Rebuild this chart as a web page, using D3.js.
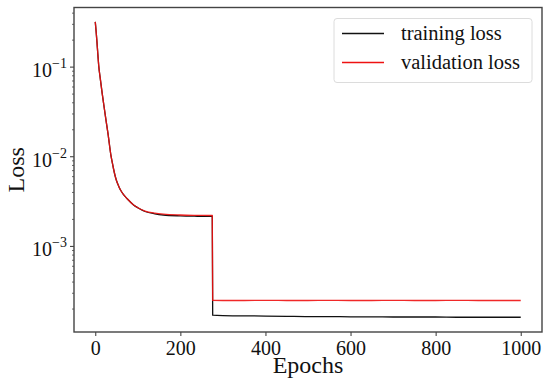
<!DOCTYPE html>
<html>
<head>
<meta charset="utf-8">
<script src="https://cdn.jsdelivr.net/npm/d3@7"></script>
<style>
  body { margin: 0; background: #fff; }
</style>
</head>
<body>
<div id="chart"></div>
<script>
// loss curves
const epochs = [0, 2, 4, 6, 8, 12, 16, 20, 25, 30, 37, 40, 43, 46, 50, 55, 60, 66, 75, 90, 100, 117, 140, 160, 200, 240, 275,
  276, 300, 350, 400, 450, 500, 550, 600, 650, 700, 750, 800, 850, 900, 950, 1000]
const trainLoss = [0.32, 0.25, 0.19, 0.14, 0.105, 0.073, 0.052, 0.038, 0.026, 0.018, 0.0102, 0.0086, 0.0073, 0.0063,
  0.0054, 0.0047, 0.0042, 0.0038, 0.0034, 0.0029, 0.0027, 0.00245, 0.00231, 0.00224, 0.00219, 0.00217, 0.00216,
  0.000171, 0.000169, 0.000168, 0.000167, 0.000166, 0.000165, 0.000165, 0.000164, 0.000164, 0.000163,
  0.000163, 0.000163, 0.000162, 0.000162, 0.000162, 0.000162]
const valLoss = [0.32, 0.25, 0.19, 0.14, 0.105, 0.073, 0.052, 0.038, 0.026, 0.018, 0.0102, 0.0086, 0.0073, 0.0063,
  0.0054, 0.0047, 0.0042, 0.0038, 0.0034, 0.0029, 0.0027, 0.00248, 0.00235, 0.00229, 0.00224, 0.00222, 0.00221,
  0.000250, 0.000249, 0.000249, 0.000250, 0.000249, 0.000249, 0.000250, 0.000249, 0.000249, 0.000250,
  0.000249, 0.000249, 0.000250, 0.000249, 0.000249, 0.000249]
const xTicks = [0, 200, 400, 600, 800, 1000]
const yTicks = [1e-3, 1e-2, 1e-1]
const seriesNames = ['training loss', 'validation loss']
const seriesColors = ['#111', '#ee1111']

const W = 550
const H = 383
const plot = { left: 74, right: 542, top: 7.5, bottom: 332 }
const serif = '"Liberation Serif", "Times New Roman", Times, serif'

const svg = d3.select('#chart')
  .append('svg')
  .attr('width', W)
  .attr('height', H)
  .style('font-family', serif)

const x = d3.scaleLinear().domain([-50, 1050]).range([plot.left, plot.right])
const y = d3.scaleLog().domain([Math.pow(10, -3.955), Math.pow(10, -0.335)]).range([plot.bottom, plot.top])

// x axis
const xAxis = svg.append('g')
  .attr('transform', 'translate(0,' + plot.bottom + ')')
  .call(d3.axisBottom(x).tickValues(xTicks).tickSize(4).tickPadding(3).tickFormat(d3.format('d')))
  .attr('font-family', serif)
xAxis.select('.domain').remove()
xAxis.selectAll('line').attr('stroke', '#333')
xAxis.selectAll('text')
  .style('font-family', serif)
  .style('font-size', '20px')
  .attr('fill', '#111')
  .attr('dy', '0.8em')

// y axis: major + minor ticks, labels drawn as 10^n
const minor = []
for (let e = -4; e <= 0; e++) {
  for (let m = 2; m <= 9; m++) {
    const v = m * Math.pow(10, e)
    if (v >= y.domain()[0] && v <= y.domain()[1]) minor.push(v)
  }
}
const yg = svg.append('g')
yg.selectAll('.minor')
  .data(minor)
  .enter().append('line')
  .attr('x1', plot.left - 2)
  .attr('x2', plot.left)
  .attr('y1', d => y(d))
  .attr('y2', d => y(d))
  .attr('stroke', '#444')
  .attr('stroke-width', 0.8)
yg.selectAll('.major')
  .data(yTicks)
  .enter().append('line')
  .attr('x1', plot.left - 4)
  .attr('x2', plot.left)
  .attr('y1', d => y(d))
  .attr('y2', d => y(d))
  .attr('stroke', '#333')
  .attr('stroke-width', 1)
const yl = yg.selectAll('.ylab')
  .data(yTicks)
  .enter().append('text')
  .attr('x', plot.left - 7)
  .attr('y', d => y(d) + 10)
  .attr('text-anchor', 'end')
  .attr('fill', '#111')
  .style('font-family', serif)
  .style('font-size', '20px')
yl.append('tspan').text('10')
yl.append('tspan')
  .attr('dy', -9)
  .style('font-size', '14px')
  .text(d => '\u2212' + Math.round(-Math.log10(d)))

// lines
const line = d3.line()
  .x((d, i) => x(epochs[i]))
  .y(d => y(d))
  .curve(d3.curveMonotoneX)

svg.append('path')
  .datum(trainLoss)
  .attr('d', line)
  .attr('fill', 'none')
  .attr('stroke', seriesColors[0])
  .attr('stroke-width', 1.3)

svg.append('path')
  .datum(valLoss)
  .attr('d', line)
  .attr('fill', 'none')
  .attr('stroke', seriesColors[1])
  .attr('stroke-width', 1.3)
  .attr('stroke-opacity', 0.9)

// frame
svg.append('rect')
  .attr('x', plot.left)
  .attr('y', plot.top)
  .attr('width', plot.right - plot.left)
  .attr('height', plot.bottom - plot.top)
  .attr('fill', 'none')
  .attr('stroke', '#444')
  .attr('stroke-width', 1.4)

// legend
const lg = svg.append('g').attr('transform', 'translate(334,18.5)')
lg.append('rect')
  .attr('width', 198)
  .attr('height', 64)
  .attr('rx', 3)
  .attr('fill', '#fff')
  .attr('fill-opacity', 0.8)
  .attr('stroke', '#dcdcdc')
  .attr('stroke-width', 1)
seriesNames.forEach(function (name, i) {
  lg.append('line')
    .attr('x1', 8)
    .attr('x2', 50)
    .attr('y1', 15 + i * 29)
    .attr('y2', 15 + i * 29)
    .attr('stroke', seriesColors[i])
    .attr('stroke-width', 1.4)
  lg.append('text')
    .attr('x', 67)
    .attr('y', 21 + i * 29)
    .attr('fill', '#111')
    .style('font-size', '20.5px')
    .text(name)
})

// axis titles
svg.append('text')
  .attr('x', (plot.left + plot.right) / 2)
  .attr('y', 372.5)
  .attr('text-anchor', 'middle')
  .attr('fill', '#111')
  .style('font-size', '24px')
  .text('Epochs')

svg.append('text')
  .attr('transform', 'translate(24,' + (plot.top + plot.bottom) / 2 + ') rotate(-90)')
  .attr('text-anchor', 'middle')
  .attr('fill', '#111')
  .style('font-size', '24px')
  .text('Loss')
</script>
</body>
</html>
